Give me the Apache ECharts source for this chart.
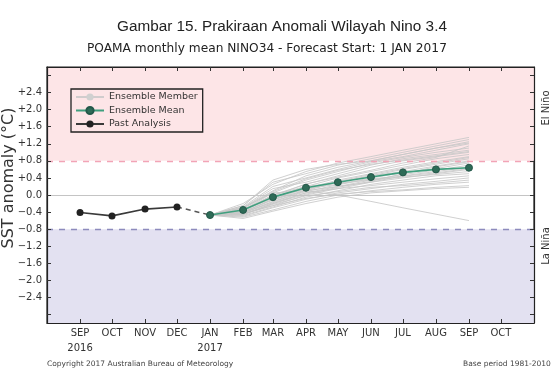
<!DOCTYPE html>
<html>
<head>
<meta charset="utf-8">
<script src="https://cdn.jsdelivr.net/npm/echarts@6/dist/echarts.min.js"></script>
<style>
html,body{margin:0;padding:0;background:#fff;}
#chart{width:556px;height:369px;}
</style>
</head>
<body>
<div id="chart"></div>
<script>
// ---- data ----
var monthDates = ['2016-09-01','2016-10-01','2016-11-01','2016-12-01','2017-01-01','2017-02-01','2017-03-01','2017-04-01','2017-05-01','2017-06-01','2017-07-01','2017-08-01','2017-09-01','2017-10-01'];
var monthLabels = ['SEP\n2016','OCT','NOV','DEC','JAN\n2017','FEB','MAR','APR','MAY','JUN','JUL','AUG','SEP','OCT'];
var pastDates = ['2016-09-01','2016-10-01','2016-11-01','2016-12-01'];
var pastValues = [-0.41, -0.49, -0.33, -0.28];
var fcDates = ['2017-01-01','2017-02-01','2017-03-01','2017-04-01','2017-05-01','2017-06-01','2017-07-01','2017-08-01','2017-09-01'];
var meanValues = [-0.47, -0.35, -0.05, 0.17, 0.30, 0.42, 0.53, 0.60, 0.64];
var members = [
  [-0.47,-0.20,0.25,0.55,0.75,0.90,1.05,1.20,1.35],
  [-0.47,-0.25,0.30,0.50,0.70,0.85,1.00,1.15,1.30],
  [-0.47,-0.30,0.10,0.45,0.65,0.80,0.95,1.10,1.25],
  [-0.47,-0.28,0.20,0.40,0.60,0.78,0.90,1.05,1.20],
  [-0.47,-0.35,0.05,0.35,0.55,0.75,0.88,1.00,1.10],
  [-0.47,-0.30,0.15,0.30,0.50,0.70,0.85,0.95,1.05],
  [-0.47,-0.38,0.00,0.25,0.45,0.65,0.80,0.90,1.00],
  [-0.47,-0.33,-0.05,0.20,0.40,0.55,0.70,0.85,0.95],
  [-0.47,-0.40,-0.10,0.15,0.35,0.50,0.65,0.78,0.90],
  [-0.47,-0.35,0.00,0.20,0.30,0.45,0.60,0.72,0.85],
  [-0.47,-0.42,-0.15,0.10,0.30,0.45,0.55,0.68,0.80],
  [-0.47,-0.38,-0.05,0.15,0.25,0.40,0.52,0.62,0.75],
  [-0.47,-0.45,-0.20,0.05,0.20,0.35,0.48,0.58,0.70],
  [-0.47,-0.40,-0.10,0.10,0.20,0.30,0.45,0.55,0.65],
  [-0.47,-0.44,-0.25,0.00,0.15,0.30,0.40,0.50,0.60],
  [-0.47,-0.36,-0.08,0.18,0.28,0.35,0.42,0.48,0.55],
  [-0.47,-0.48,-0.28,-0.05,0.10,0.25,0.35,0.45,0.50],
  [-0.47,-0.42,-0.18,0.05,0.15,0.22,0.30,0.38,0.45],
  [-0.47,-0.50,-0.30,-0.10,0.05,0.15,0.25,0.32,0.40],
  [-0.47,-0.46,-0.22,-0.02,0.08,0.18,0.22,0.28,0.35],
  [-0.47,-0.52,-0.35,-0.15,0.00,0.10,0.18,0.25,0.30],
  [-0.47,-0.44,-0.25,-0.08,0.02,0.08,0.12,0.18,0.22],
  [-0.47,-0.55,-0.38,-0.20,-0.05,0.05,0.10,0.15,0.18],
  [-0.47,-0.30,0.05,0.10,0.00,-0.15,-0.30,-0.45,-0.60],
  [-0.47,-0.25,0.35,0.60,0.72,0.80,0.95,1.10,1.22],
  [-0.47,-0.32,0.08,0.38,0.58,0.72,0.82,0.92,1.02],
  [-0.47,-0.40,-0.12,0.12,0.32,0.48,0.62,0.75,0.88],
  [-0.47,-0.46,-0.20,0.02,0.18,0.32,0.50,0.66,0.78],
  [-0.47,-0.36,-0.02,0.26,0.42,0.58,0.75,0.88,1.15],
  [-0.47,-0.42,-0.16,0.08,0.24,0.38,0.44,0.52,0.62]
];
var yLabelValues = [-2.4,-2.0,-1.6,-1.2,-0.8,-0.4,0,0.4,0.8,1.2,1.6,2.0,2.4];
var yTickValues = [-2.8,-2.4,-2.0,-1.6,-1.2,-0.8,-0.4,0,0.4,0.8,1.2,1.6,2.0,2.4,2.8];
var xMin = '2016-08-01', xMax = '2017-11-01';
var elNinoThreshold = 0.8, laNinaThreshold = -0.8;

// ---- chart ----
function parse(d) { var p = d.split('-'); return Date.UTC(+p[0], +p[1] - 1, +p[2]); }
var monthTs = monthDates.map(parse);
function zip(xs, ys) { return xs.map(function (x, i) { return [parse(x), ys[i]]; }); }
var FONT = 'DejaVu Sans';

var series = [];
series.push({
  type: 'line', data: [], silent: true, z: 1,
  markArea: {
    silent: true,
    data: [
      [{ yAxis: elNinoThreshold, itemStyle: { color: '#fde5e7' } }, { yAxis: 3 }],
      [{ yAxis: -3, itemStyle: { color: '#e3e1f1' } }, { yAxis: laNinaThreshold }]
    ]
  },
  markLine: {
    silent: true, symbol: 'none', label: { show: false },
    data: [
      { yAxis: elNinoThreshold, lineStyle: { color: '#f2a4b6', type: [6, 6], width: 1.3 } },
      { yAxis: laNinaThreshold, lineStyle: { color: '#8d8bbd', type: [6, 6], width: 1.3 } },
      { yAxis: 0, lineStyle: { color: '#c4c4c4', type: 'solid', width: 1 } }
    ]
  }
});
members.forEach(function (m) {
  series.push({
    name: 'Ensemble Member', type: 'line', data: zip(fcDates, m),
    symbol: 'none', silent: true, z: 2,
    lineStyle: { color: '#c8c8c8', width: 1, opacity: 0.85 },
    itemStyle: { color: '#d0d0d0' }
  });
});
series.push({
  type: 'line', data: [[parse(pastDates[pastDates.length - 1]), pastValues[pastValues.length - 1]], [parse(fcDates[0]), meanValues[0]]],
  symbol: 'none', silent: true, z: 3,
  lineStyle: { color: '#555', width: 1.5, type: [5, 4] }
});
series.push({
  name: 'Ensemble Mean', type: 'line', data: zip(fcDates, meanValues),
  symbol: 'circle', symbolSize: 7, z: 5,
  lineStyle: { color: '#3f9f7e', width: 1.6 },
  itemStyle: { color: '#2e6b57', borderColor: '#24584a', borderWidth: 1 }
});
series.push({
  name: 'Past Analysis', type: 'line', data: zip(pastDates, pastValues),
  symbol: 'circle', symbolSize: 7, z: 5,
  lineStyle: { color: '#3a3a3a', width: 1.6 },
  itemStyle: { color: '#222' }
});

var option = {
  animation: false,
  backgroundColor: '#fff',
  textStyle: { fontFamily: FONT },
  title: [
    { text: 'Gambar 15. Prakiraan Anomali Wilayah Nino 3.4', left: 112, top: 14,
      textStyle: { fontFamily: 'Liberation Sans', fontSize: 15.3, fontWeight: 'normal', color: '#222' } },
    { text: 'POAMA monthly mean NINO34 - Forecast Start: 1 JAN 2017', left: 82, top: 38,
      textStyle: { fontFamily: FONT, fontSize: 12.2, fontWeight: 'normal', color: '#222' } }
  ],
  grid: { left: 47, right: 22, top: 67, bottom: 46, show: true, borderColor: '#222', borderWidth: 1.2, backgroundColor: '#fff' },
  legend: {
    data: ['Ensemble Member', 'Ensemble Mean', 'Past Analysis'],
    orient: 'vertical', left: 71, top: 89, z: 10,
    borderColor: '#222', borderWidth: 1.3, borderRadius: 0,
    padding: [3, 5, 3, 4], itemGap: 3.5, itemWidth: 28, itemHeight: 9,
    textStyle: { fontFamily: FONT, fontSize: 9.5, color: '#333' }
  },
  xAxis: [
    { type: 'value', min: parse(xMin), max: parse(xMax), z: 10,
      axisLine: { show: true, onZero: false, lineStyle: { color: '#222', width: 1.2 } },
      axisTick: { show: true, inside: true, length: 4, customValues: monthTs, lineStyle: { color: '#333' } },
      axisLabel: { customValues: monthTs, margin: 3, fontSize: 10, lineHeight: 15, color: '#333', fontFamily: FONT,
        verticalAlign: 'top',
        formatter: function (v) { var i = monthTs.indexOf(v); return i >= 0 ? monthLabels[i] : ''; } },
      splitLine: { show: false } },
    { type: 'value', position: 'top', min: parse(xMin), max: parse(xMax), z: 10,
      axisLine: { show: true, onZero: false, lineStyle: { color: '#222', width: 1.2 } },
      axisTick: { show: true, inside: true, length: 4, customValues: monthTs, lineStyle: { color: '#333' } },
      axisLabel: { show: false }, splitLine: { show: false } }
  ],
  yAxis: [
    { type: 'value', min: -3, max: 3, interval: 1, z: 10,
      axisLine: { show: true, onZero: false, lineStyle: { color: '#222', width: 1.2 } },
      axisTick: { show: true, inside: true, length: 4, customValues: yTickValues, lineStyle: { color: '#333' } },
      axisLabel: { customValues: yLabelValues, margin: 5, fontSize: 10, color: '#333', fontFamily: FONT,
        formatter: function (v) { var a = Math.abs(v).toFixed(1); return v > 1e-9 ? '+' + a : (v < -1e-9 ? '\u2212' + a : '0.0'); } },
      splitLine: { show: false } },
    { type: 'value', min: -3, max: 3, interval: 1, position: 'right', z: 10,
      axisLine: { show: true, onZero: false, lineStyle: { color: '#222', width: 1.2 } },
      axisTick: { show: true, inside: true, length: 4, customValues: yTickValues, lineStyle: { color: '#333' } },
      axisLabel: { show: false }, splitLine: { show: false } }
  ],
  graphic: [
    { type: 'text', x: 9, y: 178, rotation: Math.PI / 2,
      style: { text: 'SST anomaly (\u00b0C)', fontFamily: FONT, fontSize: 16, fill: '#333', align: 'center', verticalAlign: 'middle' } },
    { type: 'text', x: 546, y: 108, rotation: Math.PI / 2,
      style: { text: 'El Ni\u00f1o', fontFamily: FONT, fontSize: 10, fill: '#333', align: 'center', verticalAlign: 'middle' } },
    { type: 'text', x: 546, y: 246, rotation: Math.PI / 2,
      style: { text: 'La Ni\u00f1a', fontFamily: FONT, fontSize: 10, fill: '#333', align: 'center', verticalAlign: 'middle' } },
    { type: 'text', x: 47, y: 360,
      style: { text: 'Copyright 2017 Australian Bureau of Meteorology', fontFamily: FONT, fontSize: 7.5, fill: '#444' } },
    { type: 'text', x: 463, y: 360,
      style: { text: 'Base period 1981-2010', fontFamily: FONT, fontSize: 7.5, fill: '#444' } }
  ],
  series: series
};
var chart = echarts.init(document.getElementById('chart'), null, { renderer: 'canvas' });
chart.setOption(option);
</script>
</body>
</html>
